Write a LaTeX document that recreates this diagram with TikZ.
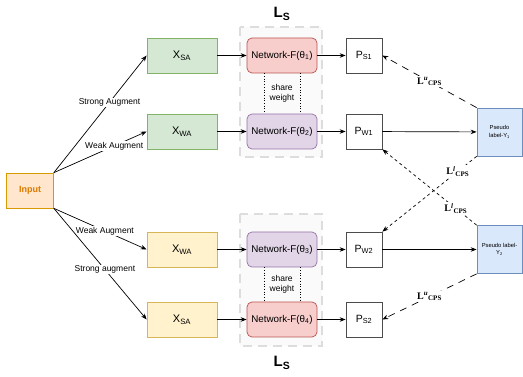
\documentclass[tikz,border=0pt]{standalone}
\usepackage{fontspec}
\setmainfont{Liberation Sans}
\newfontfamily\cpsfont{Liberation Serif}
\usetikzlibrary{arrows.meta}

\definecolor{inputfill}{HTML}{FFE6CC}
\definecolor{inputline}{HTML}{D79B00}
\definecolor{inputtext}{HTML}{D97A00}
\definecolor{greenfill}{HTML}{D5E8D4}
\definecolor{greenline}{HTML}{82B366}
\definecolor{yellowfill}{HTML}{FFF2CC}
\definecolor{yellowline}{HTML}{D6B656}
\definecolor{redfill}{HTML}{F8CECC}
\definecolor{redline}{HTML}{B85450}
\definecolor{purplefill}{HTML}{E1D5E7}
\definecolor{purpleline}{HTML}{9673A6}
\definecolor{bluefill}{HTML}{DAE8FC}
\definecolor{blueline}{HTML}{6C8EBF}
\definecolor{lsgrey}{HTML}{DDDDDD}
\definecolor{lsfill}{HTML}{FAFAFA}

\newcommand{\cpsloss}[1]{{\cpsfont\bfseries L\textsuperscript{\itshape #1}\textsubscript{CPS}}}

\tikzset{
  box/.style={draw, line width=.7pt, inner sep=0pt, align=center},
  xbox/.style={box, minimum width=70pt, minimum height=35pt, font=\fontsize{11}{13}\selectfont},
  netbox/.style={box, rounded corners=5pt, minimum width=70pt, minimum height=35pt, font=\fontsize{9.8}{11}\selectfont},
  pbox/.style={box, draw=black!70, fill=white, minimum width=36pt, minimum height=35pt, font=\fontsize{10.5}{12}\selectfont},
  pseudobox/.style={box, draw=blueline, fill=bluefill, minimum width=45pt, minimum height=48pt, font=\fontsize{5.8}{7.5}\selectfont},
  lsbox/.style={draw=lsgrey, fill=lsfill, line width=2.6pt, dash pattern=on 9pt off 6pt},
  link/.style={line width=.7pt, -{Stealth[length=6pt,width=4.5pt]}},
  augtext/.style={fill=white, inner sep=1pt, font=\fontsize{8.5}{10}\selectfont},
  cpstext/.style={fill=white, inner sep=1pt, font=\fontsize{10}{12}\selectfont},
  sharetext/.style={align=center, inner sep=0pt, font=\fontsize{8.5}{10}\selectfont},
}

\begin{document}
\begin{tikzpicture}[x=1pt,y=-1pt]
        \useasboundingbox (0,0) rectangle (523,377);
        % L_S regions
        \draw[lsbox](240, 27) rectangle (322, 157);
        \draw[lsbox](240, 214) rectangle (322, 346);
        \node (lsone) at (282, 14) {\fontsize{15}{17}\selectfont\bfseries L\textsubscript{S}};
        \node (lstwo) at (282, 363) {\fontsize{15}{17}\selectfont\bfseries L\textsubscript{S}};
        % input and augmented views
        \node[box, draw=inputline, fill=inputfill, minimum width=47pt, minimum height=35pt, text=inputtext, font=\fontsize{9}{11}\selectfont\bfseries] (input) at (30, 190.5) {Input};
        \node[xbox, draw=greenline, fill=greenfill] (xsaone) at (182, 55.5) {X\textsubscript{SA}};
        \node[xbox, draw=greenline, fill=greenfill] (xwaone) at (182, 131.5) {X\textsubscript{WA}};
        \node[xbox, draw=yellowline, fill=yellowfill] (xwatwo) at (182, 249.5) {X\textsubscript{WA}};
        \node[xbox, draw=yellowline, fill=yellowfill] (xsatwo) at (182, 319.5) {X\textsubscript{SA}};
        % networks
        \node[netbox, draw=redline, fill=redfill] (netone) at (282, 55.5) {Network-F(θ\textsubscript{1})};
        \node[netbox, draw=purpleline, fill=purplefill] (nettwo) at (282, 131.5) {Network-F(θ\textsubscript{2})};
        \node[netbox, draw=purpleline, fill=purplefill] (netthree) at (282, 249.5) {Network-F(θ\textsubscript{3})};
        \node[netbox, draw=redline, fill=redfill] (netfour) at (282, 319.5) {Network-F(θ\textsubscript{4})};
        % predictions
        \node[pbox] (psone) at (364, 55.5) {P\textsubscript{S1}};
        \node[pbox] (pwone) at (364, 131.5) {P\textsubscript{W1}};
        \node[pbox] (pwtwo) at (364, 249.5) {P\textsubscript{W2}};
        \node[pbox] (pstwo) at (364, 319.5) {P\textsubscript{S2}};
        % pseudo labels
        \node[pseudobox] (yone) at (499.5, 132) {Pseudo\\label-Y\textsubscript{1}};
        \node[pseudobox] (ytwo) at (499.5, 249.5) {Pseudo label-\\Y\textsubscript{2}};
        % share weight
        \draw[dotted, line width=.7pt](netone.south -| 264, 0) -- (nettwo.north -| 264, 0);
        \draw[dotted, line width=.7pt](netone.south -| 300, 0) -- (nettwo.north -| 300, 0);
        \node[sharetext] (shareone) at (282, 93.5) {share\\weight};
        \draw[dotted, line width=.7pt](netthree.south -| 264, 0) -- (netfour.north -| 264, 0);
        \draw[dotted, line width=.7pt](netthree.south -| 300, 0) -- (netfour.north -| 300, 0);
        \node[sharetext] (sharetwo) at (282, 284.5) {share\\weight};
        % augment arrows
        \draw[link](input.north east) -- node[augtext, pos=.6] {Strong Augment} (xsaone.west);
        \draw[link](input.north east) -- node[augtext, pos=.65] {Weak Augment} (xwaone.west);
        \draw[link](input.south east) -- node[augtext, pos=.55] {Weak Augment} (xwatwo.west);
        \draw[link](input.south east) -- node[augtext, pos=.55] {Strong augment} (xsatwo.west);
        % forward arrows
        \draw[link](xsaone) -- (netone);
        \draw[link](xwaone) -- (nettwo);
        \draw[link](xwatwo) -- (netthree);
        \draw[link](xsatwo) -- (netfour);
        \draw[link](netone) -- (psone);
        \draw[link](nettwo) -- (pwone);
        \draw[link](netthree) -- (pwtwo);
        \draw[link](netfour) -- (pstwo);
        \draw[link](pwone) -- (yone);
        \draw[link](pwtwo) -- (ytwo);
        % cps losses
        \draw[link, dash pattern=on 7pt off 6pt](yone.north west) -- node[cpstext, pos=.5] {\cpsloss{u}} (psone.east);
        \draw[link, dash pattern=on 3pt off 3pt](yone.south west) -- node[cpstext, pos=.2] {\cpsloss{l}} (pwtwo.north east);
        \draw[link, dash pattern=on 3pt off 3pt](ytwo.north west) -- node[cpstext, pos=.22] {\cpsloss{l}} (pwone.south east);
        \draw[link, dash pattern=on 7pt off 6pt](ytwo.south west) -- node[cpstext, pos=.5] {\cpsloss{u}} (pstwo.east);
    \end{tikzpicture}
\end{document}
